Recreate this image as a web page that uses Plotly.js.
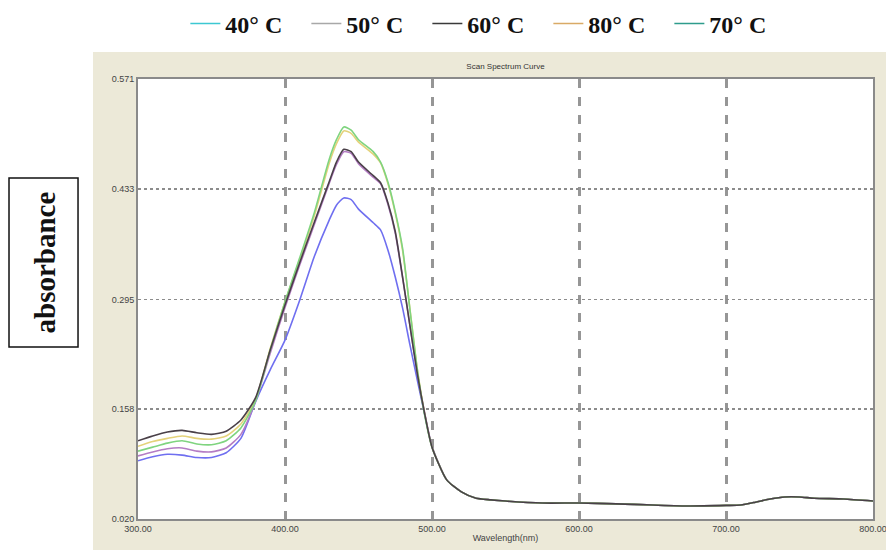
<!DOCTYPE html>
<html>
<head>
<meta charset="utf-8">
<script src="https://cdn.plot.ly/plotly-3.0.1.min.js"></script>
<style>html,body{margin:0;padding:0;background:#fff;}#chart{width:886px;height:550px;}</style>
</head>
<body>
<div id="chart"></div>
<script>
const wavelength = [300,310,320,330,340,350,360,370,380,390,400,410,420,430,435,440,445,450,460,465,470,475,480,485,490,495,500,510,520,530,540,550,575,600,625,650,675,700,710,720,730,740,750,760,780,800];

const abs40 = [0.093,0.098,0.101,0.100,0.097,0.097,0.103,0.121,0.167,0.207,0.244,0.294,0.349,0.394,0.413,0.422,0.420,0.408,0.391,0.382,0.357,0.323,0.284,0.238,0.194,0.151,0.110,0.069,0.054,0.046,0.044,0.0425,0.040,0.040,0.039,0.0375,0.0363,0.037,0.0375,0.041,0.045,0.0476,0.0476,0.046,0.045,0.0425];
const abs50 = [0.099,0.104,0.108,0.109,0.105,0.104,0.109,0.126,0.168,0.228,0.285,0.338,0.389,0.440,0.464,0.480,0.478,0.465,0.448,0.440,0.414,0.378,0.322,0.262,0.203,0.153,0.111,0.069,0.054,0.046,0.044,0.0425,0.040,0.040,0.039,0.0375,0.0363,0.037,0.0375,0.041,0.045,0.0476,0.0476,0.046,0.045,0.0425];
const abs60 = [0.118,0.124,0.129,0.131,0.128,0.126,0.130,0.144,0.172,0.232,0.288,0.341,0.392,0.442,0.467,0.483,0.480,0.467,0.450,0.441,0.416,0.380,0.323,0.262,0.202,0.152,0.110,0.069,0.054,0.046,0.044,0.0425,0.040,0.040,0.039,0.0375,0.0363,0.037,0.0375,0.041,0.045,0.0476,0.0476,0.046,0.045,0.0425];
const abs70 = [0.105,0.110,0.115,0.118,0.114,0.113,0.118,0.134,0.168,0.232,0.292,0.347,0.404,0.470,0.495,0.511,0.507,0.495,0.480,0.467,0.442,0.405,0.359,0.282,0.207,0.150,0.110,0.069,0.054,0.046,0.044,0.0425,0.040,0.040,0.039,0.0375,0.0363,0.037,0.0375,0.041,0.045,0.0476,0.0476,0.046,0.045,0.0425];
const abs80 = [0.111,0.117,0.121,0.124,0.121,0.120,0.124,0.139,0.170,0.234,0.292,0.345,0.400,0.465,0.490,0.506,0.503,0.492,0.477,0.466,0.440,0.403,0.356,0.283,0.208,0.152,0.110,0.069,0.054,0.046,0.044,0.0425,0.040,0.040,0.039,0.0375,0.0363,0.037,0.0375,0.041,0.045,0.0476,0.0476,0.046,0.045,0.0425];

const legendNames = ['40° C','50° C','60° C','80° C','70° C'];
const xTicks = [300,400,500,600,700,800];
const yTicks = [0.020,0.158,0.295,0.433,0.571];
const yTickText = ['0.020','0.158','0.295','0.433','0.571'];

const plotLine = (x, y, color) => ({x: x, y: y, type:'scatter', mode:'lines', line:{color: color, width:1.6, shape:'spline', smoothing:0.6}, showlegend:false, hoverinfo:'skip'});
const legendLine = (name, color) => ({x:[null], y:[null], type:'scatter', mode:'lines', name: name, line:{color: color, width:1.5}});

const data = [
  plotLine(wavelength, abs40, '#6f6ff0'),
  plotLine(wavelength, abs50, '#b47cc4'),
  plotLine(wavelength, abs80, '#e4d27a'),
  plotLine(wavelength, abs70, '#7fd47f'),
  plotLine(wavelength, abs60, '#4a4048'),
  legendLine(legendNames[0], '#3cc8d2'),
  legendLine(legendNames[1], '#a8a8a8'),
  legendLine(legendNames[2], '#3a3a3a'),
  legendLine(legendNames[3], '#d9aa66'),
  legendLine(legendNames[4], '#2e9c8c')
];

const layout = {
  width: 886, height: 550,
  paper_bgcolor: '#ffffff',
  plot_bgcolor: 'rgba(0,0,0,0)',
  margin: {l:138, r:13, t:79, b:31, pad:0, autoexpand:false},
  title: {text:'Scan Spectrum Curve', font:{family:'Liberation Sans, Arial', size:8, color:'#333'}, xref:'paper', x:0.5, xanchor:'center', yref:'container', y:0.88, yanchor:'middle'},
  showlegend: true,
  legend: {orientation:'h', x:0.476, xanchor:'center', y:1.125, yanchor:'middle', bgcolor:'rgba(0,0,0,0)',
    entrywidth:76, entrywidthmode:'pixels',
    font:{family:'Liberation Serif, Times New Roman, serif', size:24, color:'#111', weight:'bold'}, itemwidth:30, tracegroupgap:0},
  xaxis: {range:[300,800], tickvals:xTicks, tickformat:'.2f', showgrid:true, gridcolor:'#969696', gridwidth:3, griddash:'dash',
    showline:true, linecolor:'#8a8a8a', linewidth:2, mirror:true, ticks:'', zeroline:false, ticklabeloverflow:'allow',
    tickfont:{family:'Liberation Sans, Arial', size:9, color:'#444'},
    title:{text:'Wavelength(nm)', font:{family:'Liberation Sans, Arial', size:9, color:'#444'}, standoff:2}},
  yaxis: {range:[0.020,0.571], tickvals:yTicks, ticktext:yTickText, showgrid:true, gridcolor:'#8c8c8c', gridwidth:1.6, griddash:'dot',
    showline:true, linecolor:'#8a8a8a', linewidth:2, mirror:true, ticks:'', zeroline:false,
    tickfont:{family:'Liberation Sans, Arial', size:9, color:'#444'}},
  shapes: [
    {type:'rect', xref:'paper', yref:'paper', x0:-0.0612, x1:1.02, y0:-0.08, y1:1.0614, fillcolor:'#ece9d8', line:{width:0}, layer:'below'},
    {type:'rect', xref:'paper', yref:'paper', x0:0, x1:1, y0:0, y1:1, fillcolor:'#ffffff', line:{width:0}, layer:'below'},
    {type:'rect', xref:'paper', yref:'paper', x0:-0.1755, x1:-0.0816, y0:0.391, y1:0.775, fillcolor:'rgba(0,0,0,0)', line:{color:'#111', width:1.5}, layer:'above'}
  ],
  annotations: [
    {text:'absorbance', xref:'paper', yref:'paper', x:-0.1265, y:0.583, xanchor:'center', yanchor:'middle', textangle:-90, showarrow:false,
     font:{family:'Liberation Serif, Times New Roman, serif', size:29, color:'#111', weight:'bold'}}
  ]
};

Plotly.newPlot('chart', data, layout, {displayModeBar:false, staticPlot:true});
</script>
</body>
</html>
